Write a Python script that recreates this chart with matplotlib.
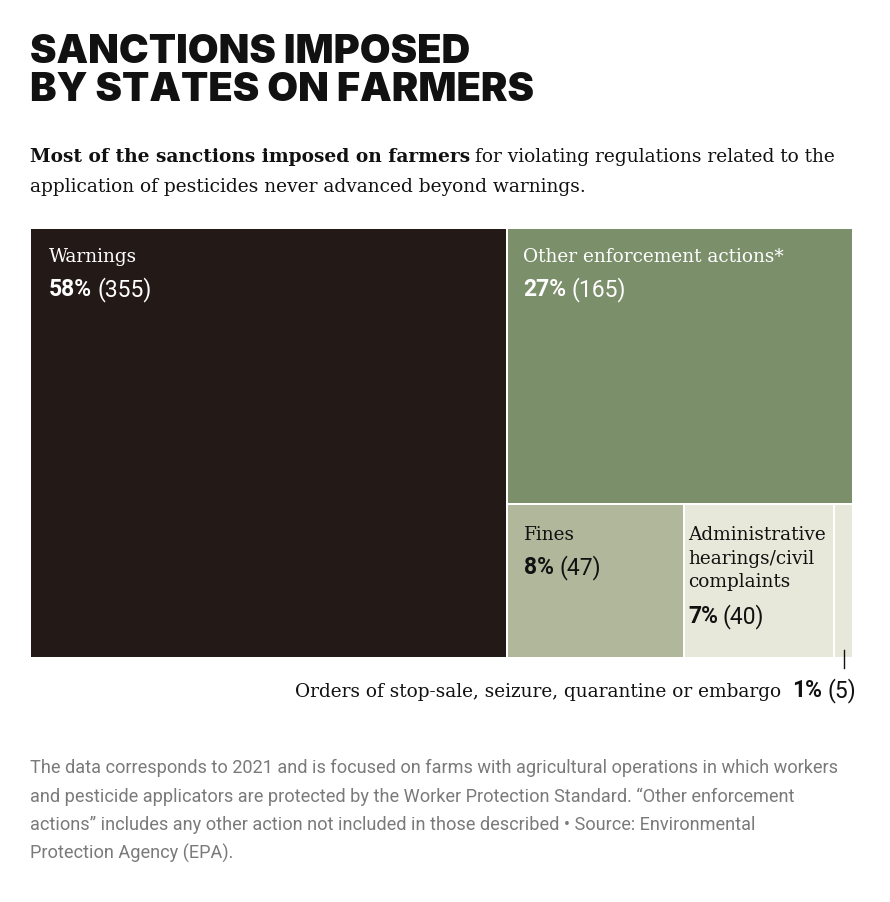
import matplotlib
matplotlib.use("Agg")
import matplotlib.pyplot as plt
from matplotlib.patches import Rectangle
from matplotlib import font_manager as fm

categories = ["Warnings", "Other enforcement actions*", "Fines",
              "Administrative\nhearings/civil\ncomplaints",
              "Orders of stop-sale, seizure, quarantine or embargo"]
counts = [355, 165, 47, 40, 5]
percents = ["58%", "27%", "8%", "7%", "1%"]
colors = ["#231a17", "#7b8f6a", "#b1b79b", "#e7e8d9", "#e7e8d9"]

total = sum(counts)

fig = plt.figure(figsize=(8.9, 9.02), dpi=100)
ax = fig.add_axes([0, 0, 1, 1])
ax.set_xlim(0, 890)
ax.set_ylim(902, 0)
ax.axis("off")

names = {f.name for f in fm.fontManager.ttflist}
serif = "Roboto Slab" if "Roboto Slab" in names else "DejaVu Serif"
title_font = "Inter" if "Inter" in names else "DejaVu Sans"

PCT_SIZE = 16.5
LBL_SIZE = 13.3

# Title
ax.text(30, 63, "SANCTIONS IMPOSED", fontsize=28.7, fontweight="black",
        family=title_font, color="#111111", va="baseline")
ax.text(30, 101, "BY STATES ON FARMERS", fontsize=28.7, fontweight="black",
        family=title_font, color="#111111", va="baseline")

# Subtitle
sub_b = ax.text(30, 162, "Most of the sanctions imposed on farmers", fontsize=13.4,
                fontweight="bold", family=serif, color="#111111", va="baseline")
fig.canvas.draw()
bb = sub_b.get_window_extent()
ax.text(bb.x1 + 5, 162, "for violating regulations related to the", fontsize=13.4,
        family=serif, color="#111111", va="baseline")
ax.text(30, 192, "application of pesticides never advanced beyond warnings.",
        fontsize=13.4, family=serif, color="#111111", va="baseline")

# Treemap layout computed from data
X0, Y0, W, H = 30, 228, 823, 430
gap = 1.0
w_warn = W * counts[0] / total
rects = [(X0, Y0, w_warn, H)]
rx, rw = X0 + w_warn, W - w_warn
rest = sum(counts[1:])
h_other = H * counts[1] / rest
rects.append((rx, Y0, rw, h_other))
bottom = sum(counts[2:])
cx = rx
for c in counts[2:]:
    cw = rw * c / bottom
    rects.append((cx, Y0 + h_other, cw, H - h_other))
    cx += cw

for (x, y, w, h), col in zip(rects, colors):
    ax.add_patch(Rectangle((x + gap, y + gap), w - 2 * gap, h - 2 * gap,
                           facecolor=col, edgecolor="none"))

def pct_pair(x, y, i, tcol):
    t = ax.text(x, y, percents[i], fontsize=PCT_SIZE, fontweight="bold",
                family="Roboto", color=tcol, va="baseline")
    fig.canvas.draw()
    e = t.get_window_extent()
    ax.text(x + e.width + 5, y, f"({counts[i]})", fontsize=PCT_SIZE,
            family="Roboto", color=tcol, va="baseline")

def label(i, dx, dy, tcol, line_gap=34):
    x, y, w, h = rects[i]
    lines = categories[i].split("\n")
    for k, ln in enumerate(lines):
        ax.text(x + dx, y + dy + 23.5 * k, ln, fontsize=LBL_SIZE, family=serif,
                color=tcol, va="baseline")
    by = y + dy + (len(lines) - 1) * 23.5 + line_gap
    pct_pair(x + dx, by, i, tcol)

label(0, 19, 34, "white")
label(1, 16, 34, "white")
label(2, 17, 36, "#111111")
label(3, 4, 36, "#111111", line_gap=36)

# Orders annotation outside
ox, oy, ow, oh = rects[4]
mx = ox + ow / 2
ax.plot([mx, mx], [Y0 + H - 8, Y0 + H + 10], color="#111111", lw=1)
t2 = ax.text(856, 697, f"({counts[4]})", fontsize=PCT_SIZE, family="Roboto",
             color="#111111", va="baseline", ha="right")
fig.canvas.draw()
e2 = t2.get_window_extent()
t1 = ax.text(856 - e2.width - 5, 697, percents[4], fontsize=PCT_SIZE, fontweight="bold",
             family="Roboto", color="#111111", va="baseline", ha="right")
fig.canvas.draw()
e1 = t1.get_window_extent()
ax.text(856 - e2.width - e1.width - 16, 697, categories[4], fontsize=LBL_SIZE,
        family=serif, color="#111111", va="baseline", ha="right")

# Footnote
foot = ["The data corresponds to 2021 and is focused on farms with agricultural operations in which workers",
        "and pesticide applicators are protected by the Worker Protection Standard. \u201cOther enforcement",
        "actions\u201d includes any other action not included in those described \u2022 Source: Environmental",
        "Protection Agency (EPA)."]
for k, line in enumerate(foot):
    ax.text(30, 773 + 28.5 * k, line, fontsize=13.1, family="Roboto",
            color="#7a7a7a", va="baseline")

fig.savefig("out.png", dpi=100, facecolor="white")
